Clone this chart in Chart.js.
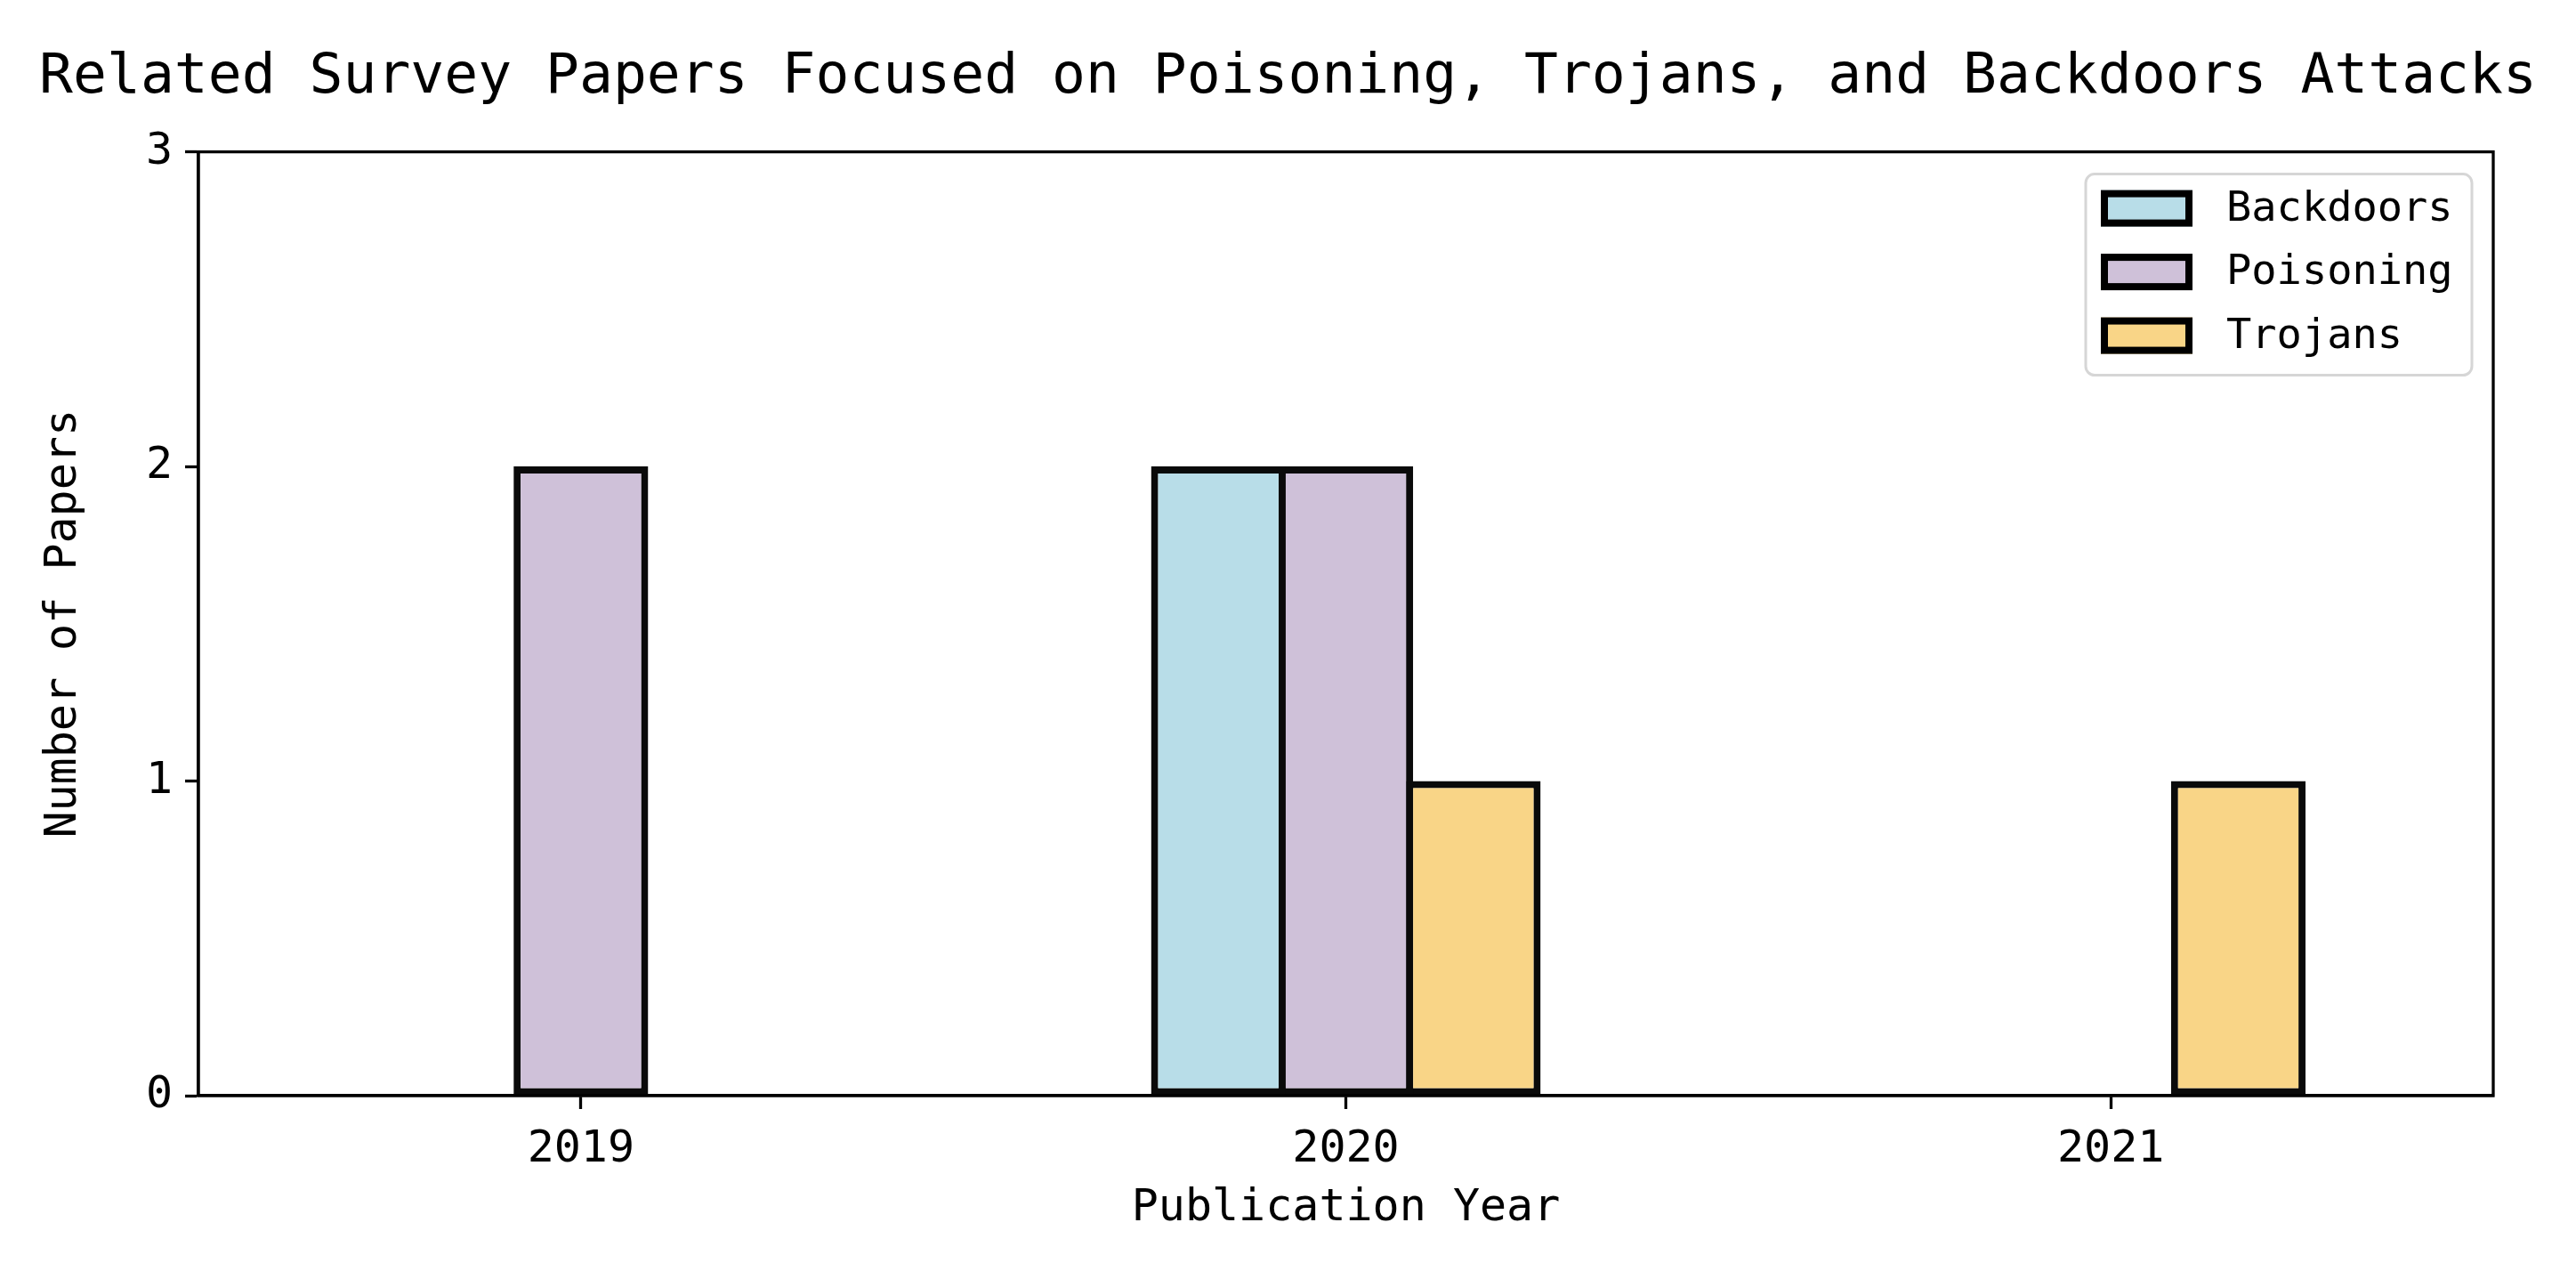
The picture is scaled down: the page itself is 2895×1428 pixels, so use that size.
<!DOCTYPE html>
<html lang="en">
<head>
  <meta charset="UTF-8">
  <title>Related Survey Papers</title>
  <script src="https://cdn.jsdelivr.net/npm/chart.js"></script>
  <style>
    html, body {
      margin: 0;
      padding: 0;
      background: #fff;
    }
    canvas {
      display: block;
    }
  </style>
</head>
<body>
  <canvas id="surveyChart" width="2895" height="1428"></canvas>

  <script>
    const years = ['2019', '2020', '2021'];
    const backdoors = [0, 2, 0];
    const poisoning = [2, 2, 0];
    const trojans = [0, 1, 1];
    const yTicks = [0, 1, 2, 3];

    const FONT = "'DejaVu Sans Mono', monospace";

    // box around the plot (matplotlib-style spines) + legend inside the axes
    const framePlugin = {
      id: 'frame',
      afterDatasetsDraw(chart) {
        const { ctx, chartArea: a } = chart;
        ctx.save();
        ctx.strokeStyle = '#000';
        ctx.lineWidth = 3.3;
        ctx.strokeRect(a.left, a.top, a.right - a.left, a.bottom - a.top);

        // legend
        const w = 434, h = 226;
        const x = a.right - 24 - w;
        const y = a.top + 25;
        ctx.fillStyle = 'rgba(255,255,255,0.8)';
        ctx.strokeStyle = '#d6d6d6';
        ctx.lineWidth = 3;
        ctx.beginPath();
        ctx.roundRect(x, y, w, h, 10);
        ctx.fill();
        ctx.stroke();

        ctx.font = '47px ' + FONT;
        ctx.textBaseline = 'middle';
        ctx.textAlign = 'left';
        chart.data.datasets.forEach((ds, i) => {
          const cy = y + 38 + i * 71.5;
          ctx.fillStyle = ds.backgroundColor;
          ctx.fillRect(x + 17, cy - 20, 103, 41);
          ctx.strokeStyle = '#000';
          ctx.lineWidth = 8;
          ctx.strokeRect(x + 21, cy - 16, 95, 33);
          ctx.fillStyle = '#000';
          ctx.fillText(ds.label, x + 158, cy + 2);
        });
        ctx.restore();
      }
    };

    const ctx = document.getElementById('surveyChart').getContext('2d');

    new Chart(ctx, {
      type: 'bar',
      data: {
        labels: years,
        datasets: [
          { label: 'Backdoors', data: backdoors, backgroundColor: '#b8dde8' },
          { label: 'Poisoning', data: poisoning, backgroundColor: '#cfc1d9' },
          { label: 'Trojans', data: trojans, backgroundColor: '#f9d587' }
        ].map(d => Object.assign(d, {
          borderColor: '#0a0a0a',
          borderWidth: 8,
          borderSkipped: false,
          categoryPercentage: 0.5,
          barPercentage: 1.056
        }))
      },
      options: {
        responsive: false,
        animation: false,
        devicePixelRatio: 1,
        layout: {
          padding: 0
        },
        plugins: {
          legend: { display: false },
          tooltip: { enabled: false },
          title: {
            display: true,
            text: 'Related Survey Papers Focused on Poisoning, Trojans, and Backdoors Attacks',
            color: '#000',
            font: { family: FONT, size: 63, weight: 'normal', lineHeight: 1.2 },
            padding: { top: 50, bottom: 45 }
          }
        },
        scales: {
          x: {
            offset: true,
            grid: {
              display: true,
              drawOnChartArea: false,
              drawTicks: true,
              tickLength: 15,
              tickWidth: 3.3,
              tickColor: '#000',
              offset: false
            },
            border: { display: true, color: '#000', width: 3.3 },
            ticks: {
              color: '#000',
              padding: 16,
              font: { family: FONT, size: 50, lineHeight: 1.2 }
            },
            title: {
              display: true,
              text: 'Publication Year',
              color: '#000',
              font: { family: FONT, size: 50, lineHeight: 1.2 },
              padding: { top: 0, bottom: 40 }
            },
            afterFit(scale) { scale.height = 197; }
          },
          y: {
            min: 0,
            max: 3,
            afterBuildTicks(scale) {
              scale.ticks = yTicks.map(v => ({ value: v }));
            },
            grid: {
              display: true,
              drawOnChartArea: false,
              drawTicks: true,
              tickLength: 15,
              tickWidth: 3.3,
              tickColor: '#000'
            },
            border: { display: true, color: '#000', width: 3.3 },
            ticks: {
              color: '#000',
              padding: 14,
              font: { family: FONT, size: 50, lineHeight: 1.2 }
            },
            title: {
              display: true,
              text: 'Number of Papers',
              color: '#000',
              font: { family: FONT, size: 50, lineHeight: 1.2 },
              padding: { top: 42, bottom: 0 }
            },
            afterFit(scale) { scale.width = 223; }
          },
          // empty right margin so the title centres on the whole figure
          yRight: {
            position: 'right',
            min: 0,
            max: 1,
            grid: { display: false },
            border: { display: false },
            ticks: { display: false },
            afterFit(scale) { scale.width = 93; }
          }
        }
      },
      plugins: [framePlugin]
    });
  </script>
</body>
</html>
